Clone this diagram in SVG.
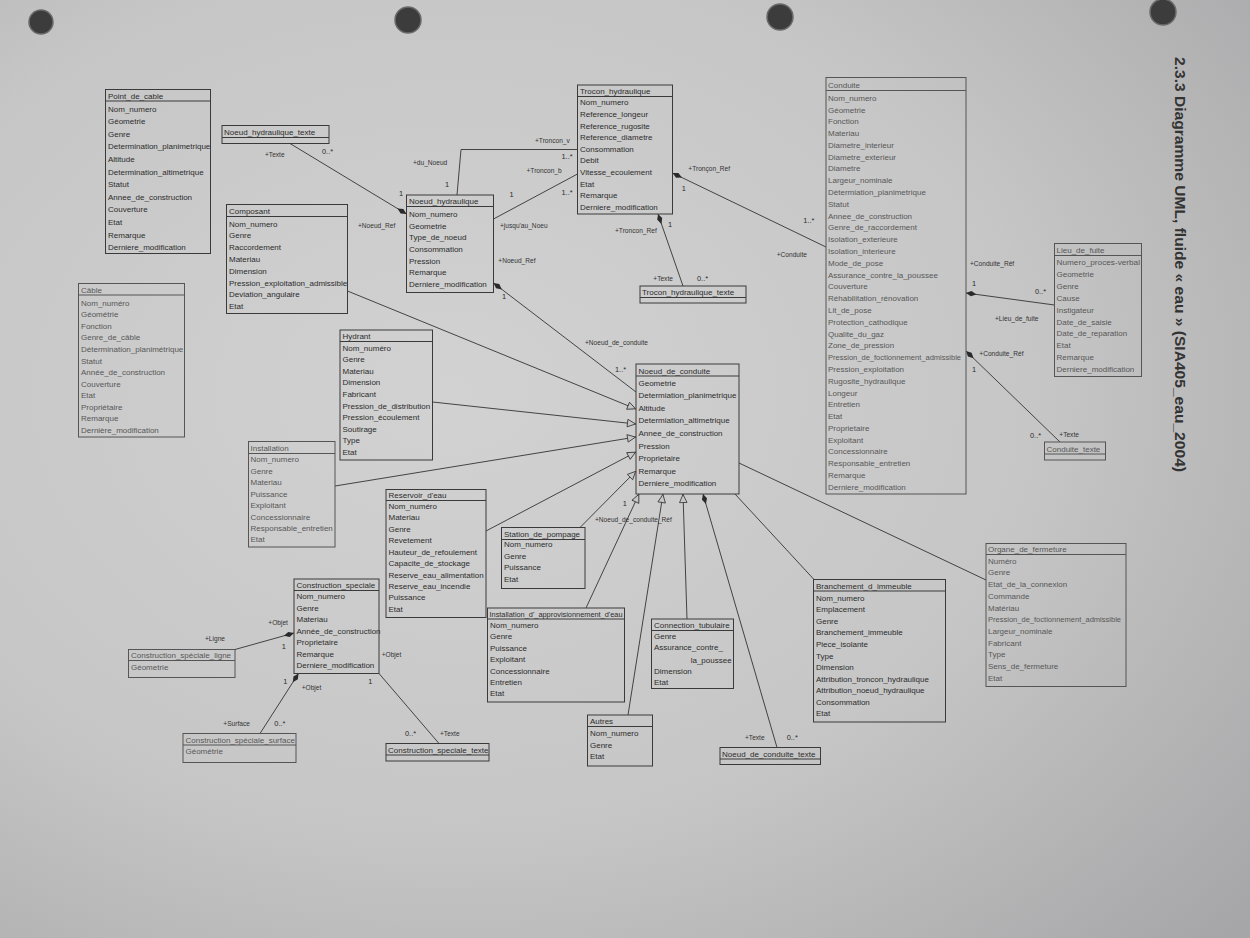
<svg xmlns="http://www.w3.org/2000/svg" width="1250" height="938" viewBox="0 0 1250 938">
  <defs>
    <radialGradient id="paper" cx="0.36" cy="0.42" r="0.85">
      <stop offset="0" stop-color="#d2d2d2"/>
      <stop offset="0.55" stop-color="#c6c6c6"/>
      <stop offset="1" stop-color="#a6a6a8"/>
    </radialGradient>
    <marker id="diamond" viewBox="0 0 14 8" refX="13" refY="4" markerWidth="13" markerHeight="7" markerUnits="userSpaceOnUse" orient="auto">
      <path d="M1,4 L7,1 L13,4 L7,7 z" fill="#2a2a2a"/>
    </marker>
    <marker id="tri" viewBox="0 0 10 10" refX="10" refY="5" markerWidth="10" markerHeight="9" markerUnits="userSpaceOnUse" orient="auto">
      <path d="M0.5,0.8 L9.5,5 L0.5,9.2 z" fill="#c6c6c6" stroke="#333" stroke-width="0.9"/>
    </marker>
    <style>
      .box { fill: none; stroke: #3a3a3a; stroke-width: 1; }
      .boxl { fill: none; stroke: #555; stroke-width: 1; }
      .sep { stroke: #3a3a3a; stroke-width: 1; }
      .sepl { stroke: #555; stroke-width: 1; }
      text { font-family: "Liberation Sans", Arial, sans-serif; }
      .t { font-size: 8px; fill: #2c2c2c; }
      .tl { font-size: 8px; fill: #575757; }
      .lbl { font-size: 6.6px; fill: #333; }
      .mul { font-size: 7.4px; fill: #2c2c2c; }
      .conn { stroke: #333; stroke-width: 0.9; fill: none; }
      .title { font-size: 14.5px; font-weight: bold; fill: #333; }
    </style>
  </defs>

  <!-- sheet of paper and punch holes -->
  <rect x="0" y="0" width="1250" height="938" fill="url(#paper)"/>
  <g id="holes" fill="#3c3c3c" stroke="#6a6a6a" stroke-width="1.5">
    <circle cx="41" cy="22" r="12"/>
    <circle cx="408" cy="20" r="13"/>
    <circle cx="780" cy="17" r="13"/>
    <circle cx="1163" cy="12" r="13"/>
  </g>

  <!-- heading, printed along the right margin -->
  <text class="title" transform="translate(1175,57) rotate(90)" textLength="415" lengthAdjust="spacingAndGlyphs">2.3.3   Diagramme UML, fluide « eau » (SIA405_eau_2004)</text>

  <!-- associations and generalisations -->
  <g id="connectors">
    <path class="conn" d="M290,143.5 L406.5,214" marker-end="url(#diamond)"/>
    <path class="conn" d="M457,195 L461,149.5 L577.5,149.5"/>
    <path class="conn" d="M493.5,219 L577.5,174"/>
    <path class="conn" d="M683,286 L658,214" marker-end="url(#diamond)"/>
    <path class="conn" d="M826,247 L672.5,173" marker-end="url(#diamond)"/>
    <path class="conn" d="M1054.5,305 L966,293" marker-end="url(#diamond)"/>
    <path class="conn" d="M1060,442 L966,351" marker-end="url(#diamond)"/>
    <path class="conn" d="M636,392 L493.5,283" marker-end="url(#diamond)"/>
    <path class="conn" d="M347.5,291 L636,409" marker-end="url(#tri)"/>
    <path class="conn" d="M432.5,402 L636,424" marker-end="url(#tri)"/>
    <path class="conn" d="M335,486 L636,437" marker-end="url(#tri)"/>
    <path class="conn" d="M486,531 L636,452" marker-end="url(#tri)"/>
    <path class="conn" d="M580,527.5 L636,471" marker-end="url(#tri)"/>
    <path class="conn" d="M586,608 L639,494" marker-end="url(#tri)"/>
    <path class="conn" d="M628,715 L663,494" marker-end="url(#tri)"/>
    <path class="conn" d="M687,619 L683,494" marker-end="url(#tri)"/>
    <path class="conn" d="M777,747.5 L703,494" marker-end="url(#diamond)"/>
    <path class="conn" d="M739,463 L986,580"/>
    <path class="conn" d="M735,494 L814,579.5"/>
    <path class="conn" d="M235,649.5 L294,633" marker-end="url(#diamond)"/>
    <path class="conn" d="M260,733.5 L298.5,673.5" marker-end="url(#diamond)"/>
    <path class="conn" d="M379,673.5 L439,743.5"/>

    <text class="lbl" x="265" y="157.3">+Texte</text>
    <text class="mul" x="322" y="154">0..*</text>
    <text class="mul" x="399" y="196">1</text>
    <text class="lbl" x="358" y="228">+Noeud_Ref</text>
    <text class="lbl" x="535" y="143">+Troncon_v</text>
    <text class="mul" x="561.5" y="158.5">1..*</text>
    <text class="lbl" x="413" y="164.6">+du_Noeud</text>
    <text class="mul" x="445" y="187">1</text>
    <text class="lbl" x="526.5" y="173">+Troncon_b</text>
    <text class="mul" x="509.5" y="196.5">1</text>
    <text class="mul" x="561.5" y="195">1..*</text>
    <text class="lbl" x="500" y="228">+jusqu'au_Noeu</text>
    <text class="lbl" x="498.3" y="263">+Noeud_Ref</text>
    <text class="mul" x="502" y="299">1</text>
    <text class="lbl" x="615" y="233">+Troncon_Ref</text>
    <text class="mul" x="668" y="226.5">1</text>
    <text class="lbl" x="653.3" y="280.6">+Texte</text>
    <text class="mul" x="697" y="280.6">0..*</text>
    <text class="lbl" x="688.3" y="171.3">+Tronçon_Ref</text>
    <text class="mul" x="681.7" y="190.6">1</text>
    <text class="mul" x="803.3" y="223">1..*</text>
    <text class="lbl" x="776.7" y="256.6">+Conduite</text>
    <text class="lbl" x="970" y="265.6">+Conduite_Réf</text>
    <text class="mul" x="972" y="286.3">1</text>
    <text class="mul" x="1035" y="294">0..*</text>
    <text class="lbl" x="995" y="320.6">+Lieu_de_fuite</text>
    <text class="lbl" x="979.3" y="355.6">+Conduite_Réf</text>
    <text class="mul" x="972" y="372.3">1</text>
    <text class="mul" x="1030" y="438.3">0..*</text>
    <text class="lbl" x="1059.3" y="437.3">+Texte</text>
    <text class="lbl" x="585" y="345">+Noeud_de_conduite</text>
    <text class="mul" x="615" y="371.6">1..*</text>
    <text class="mul" x="622.7" y="506.3">1</text>
    <text class="lbl" x="595" y="522.3">+Noeud_de_conduite_Réf</text>
    <text class="lbl" x="745" y="739.6">+Texte</text>
    <text class="mul" x="786.7" y="739.6">0..*</text>
    <text class="lbl" x="205" y="641.3">+Ligne</text>
    <text class="lbl" x="268.3" y="624.6">+Objet</text>
    <text class="mul" x="281.7" y="649">1</text>
    <text class="mul" x="283.3" y="684">1</text>
    <text class="lbl" x="301.7" y="690">+Objet</text>
    <text class="lbl" x="223.3" y="725.6">+Surface</text>
    <text class="mul" x="274.3" y="725.6">0..*</text>
    <text class="mul" x="368.3" y="684">1</text>
    <text class="lbl" x="381.7" y="656.6">+Objet</text>
    <text class="mul" x="405" y="735.6">0..*</text>
    <text class="lbl" x="440" y="735.6">+Texte</text>
  </g>

  <g id="Point_de_cable">
    <rect class="box" x="105.5" y="89.5" width="105" height="164"/>
    <line class="sep" x1="105.5" y1="101" x2="210.5" y2="101"/>
    <text class="t" x="108" y="98.5">Point_de_cable</text>
    <text class="t" x="108" y="111.5">Nom_numero</text>
    <text class="t" x="108" y="124.1">Géometrie</text>
    <text class="t" x="108" y="136.7">Genre</text>
    <text class="t" x="108" y="149.3">Determination_planimetrique</text>
    <text class="t" x="108" y="161.9">Altitude</text>
    <text class="t" x="108" y="174.5">Determination_altimetrique</text>
    <text class="t" x="108" y="187.1">Statut</text>
    <text class="t" x="108" y="199.7">Annee_de_construction</text>
    <text class="t" x="108" y="212.3">Couverture</text>
    <text class="t" x="108" y="224.9">Etat</text>
    <text class="t" x="108" y="237.5">Remarque</text>
    <text class="t" x="108" y="250.1">Derniere_modification</text>
  </g>

  <g id="Noeud_hydraulique_texte">
    <rect class="box" x="222" y="125.5" width="107" height="18"/>
    <line class="sep" x1="222" y1="137.5" x2="329" y2="137.5"/>
    <text class="t" x="224" y="135">Noeud_hydraulique_texte</text>
  </g>

  <g id="Composant">
    <rect class="box" x="226.5" y="204.5" width="121" height="109"/>
    <line class="sep" x1="226.5" y1="216.5" x2="347.5" y2="216.5"/>
    <text class="t" x="229" y="214">Composant</text>
    <text class="t" x="229" y="226.5">Nom_numero</text>
    <text class="t" x="229" y="238.3">Genre</text>
    <text class="t" x="229" y="250.1">Raccordement</text>
    <text class="t" x="229" y="261.9">Materiau</text>
    <text class="t" x="229" y="273.7">Dimension</text>
    <text class="t" x="229" y="285.5">Pression_exploitation_admissible</text>
    <text class="t" x="229" y="297.3">Deviation_angulaire</text>
    <text class="t" x="229" y="309.1">Etat</text>
  </g>

  <g id="Cable">
    <rect class="boxl" x="78.5" y="283.5" width="106" height="153.5"/>
    <line class="sepl" x1="78.5" y1="295" x2="184.5" y2="295"/>
    <text class="tl" x="81" y="292.5">Câble</text>
    <text class="tl" x="81" y="305.7">Nom_numéro</text>
    <text class="tl" x="81" y="317.3">Géométrie</text>
    <text class="tl" x="81" y="328.8">Fonction</text>
    <text class="tl" x="81" y="340.4">Genre_de_câble</text>
    <text class="tl" x="81" y="352">Détermination_planimétrique</text>
    <text class="tl" x="81" y="363.6">Statut</text>
    <text class="tl" x="81" y="375.1">Année_de_construction</text>
    <text class="tl" x="81" y="386.7">Couverture</text>
    <text class="tl" x="81" y="398.3">Etat</text>
    <text class="tl" x="81" y="409.8">Propriétaire</text>
    <text class="tl" x="81" y="421.4">Remarque</text>
    <text class="tl" x="81" y="433">Dernière_modification</text>
  </g>

  <g id="Noeud_hydraulique">
    <rect class="box" x="406.5" y="195" width="87" height="97.5"/>
    <line class="sep" x1="406.5" y1="206.5" x2="493.5" y2="206.5"/>
    <text class="t" x="409" y="204">Noeud_hydraulique</text>
    <text class="t" x="409" y="217">Nom_numero</text>
    <text class="t" x="409" y="228.7">Geometrie</text>
    <text class="t" x="409" y="240.3">Type_de_noeud</text>
    <text class="t" x="409" y="252">Consommation</text>
    <text class="t" x="409" y="263.7">Pression</text>
    <text class="t" x="409" y="275.3">Remarque</text>
    <text class="t" x="409" y="287">Derniere_modification</text>
  </g>

  <g id="Troncon_hydraulique">
    <rect class="box" x="577.5" y="85" width="95" height="129"/>
    <line class="sep" x1="577.5" y1="96.5" x2="672.5" y2="96.5"/>
    <text class="t" x="580" y="94">Trocon_hydraulique</text>
    <text class="t" x="580" y="105.3">Nom_numero</text>
    <text class="t" x="580" y="116.9">Reference_longeur</text>
    <text class="t" x="580" y="128.5">Reference_rugosite</text>
    <text class="t" x="580" y="140.1">Reference_diametre</text>
    <text class="t" x="580" y="151.7">Consommation</text>
    <text class="t" x="580" y="163.3">Debit</text>
    <text class="t" x="580" y="174.9">Vitesse_ecoulement</text>
    <text class="t" x="580" y="186.5">Etat</text>
    <text class="t" x="580" y="198.1">Remarque</text>
    <text class="t" x="580" y="209.7">Derniere_modification</text>
  </g>

  <g id="Trocon_hydraulique_texte">
    <rect class="box" x="640" y="286" width="106" height="17"/>
    <line class="sep" x1="640" y1="297.5" x2="746" y2="297.5"/>
    <text class="t" x="642" y="295">Trocon_hydraulique_texte</text>
  </g>

  <g id="Conduite">
    <rect class="boxl" x="826" y="77.5" width="140" height="416.5"/>
    <line class="sepl" x1="826" y1="90.5" x2="966" y2="90.5"/>
    <text class="tl" x="828" y="88">Conduite</text>
    <text class="tl" x="828" y="100.7">Nom_numero</text>
    <text class="tl" x="828" y="112.5">Géometrie</text>
    <text class="tl" x="828" y="124.3">Fonction</text>
    <text class="tl" x="828" y="136.1">Materiau</text>
    <text class="tl" x="828" y="147.9">Diametre_interieur</text>
    <text class="tl" x="828" y="159.7">Diametre_exterieur</text>
    <text class="tl" x="828" y="171.4">Diametre</text>
    <text class="tl" x="828" y="183.2">Largeur_nominale</text>
    <text class="tl" x="828" y="195">Détermiation_planimetrique</text>
    <text class="tl" x="828" y="206.8">Statut</text>
    <text class="tl" x="828" y="218.6">Annee_de_construction</text>
    <text class="tl" x="828" y="230.4">Genre_de_raccordement</text>
    <text class="tl" x="828" y="242.2">Isolation_exterieure</text>
    <text class="tl" x="828" y="254">Isolation_interieure</text>
    <text class="tl" x="828" y="265.8">Mode_de_pose</text>
    <text class="tl" x="828" y="277.6">Assurance_contre_la_poussee</text>
    <text class="tl" x="828" y="289.3">Couverture</text>
    <text class="tl" x="828" y="301.1">Réhabilitation_rénovation</text>
    <text class="tl" x="828" y="312.9">Lit_de_pose</text>
    <text class="tl" x="828" y="324.7">Protection_cathodique</text>
    <text class="tl" x="828" y="336.5">Qualite_du_gaz</text>
    <text class="tl" x="828" y="348.3">Zone_de_pression</text>
    <text class="tl" x="828" y="360.1" textLength="133" lengthAdjust="spacingAndGlyphs">Pression_de_foctionnement_admissible</text>
    <text class="tl" x="828" y="371.9">Pression_exploitation</text>
    <text class="tl" x="828" y="383.7">Rugosite_hydraulique</text>
    <text class="tl" x="828" y="395.5">Longeur</text>
    <text class="tl" x="828" y="407.2">Entretien</text>
    <text class="tl" x="828" y="419">Etat</text>
    <text class="tl" x="828" y="430.8">Proprietaire</text>
    <text class="tl" x="828" y="442.6">Exploitant</text>
    <text class="tl" x="828" y="454.4">Concessionnaire</text>
    <text class="tl" x="828" y="466.2">Responsable_entretien</text>
    <text class="tl" x="828" y="478">Remarque</text>
    <text class="tl" x="828" y="489.8">Derniere_modification</text>
  </g>

  <g id="Lieu_de_fuite">
    <rect class="boxl" x="1054.5" y="243.5" width="87" height="133"/>
    <line class="sepl" x1="1054.5" y1="255.5" x2="1141.5" y2="255.5"/>
    <text class="tl" x="1056.5" y="253">Lieu_de_fuite</text>
    <text class="tl" x="1056.5" y="265.3" textLength="83.5" lengthAdjust="spacingAndGlyphs">Numero_proces-verbal</text>
    <text class="tl" x="1056.5" y="277.2">Geometrie</text>
    <text class="tl" x="1056.5" y="289">Genre</text>
    <text class="tl" x="1056.5" y="300.9">Cause</text>
    <text class="tl" x="1056.5" y="312.7">Instigateur</text>
    <text class="tl" x="1056.5" y="324.6">Date_de_saisie</text>
    <text class="tl" x="1056.5" y="336.4">Date_de_reparation</text>
    <text class="tl" x="1056.5" y="348.3">Etat</text>
    <text class="tl" x="1056.5" y="360.1">Remarque</text>
    <text class="tl" x="1056.5" y="372">Derniere_modification</text>
  </g>

  <g id="Conduite_texte">
    <rect class="boxl" x="1044.5" y="442" width="61" height="18"/>
    <line class="sepl" x1="1044.5" y1="454" x2="1105.5" y2="454"/>
    <text class="tl" x="1046.5" y="451.5">Conduite_texte</text>
  </g>

  <g id="Hydrant">
    <rect class="box" x="340" y="330" width="92.5" height="130"/>
    <line class="sep" x1="340" y1="341.5" x2="432.5" y2="341.5"/>
    <text class="t" x="342.5" y="339">Hydrant</text>
    <text class="t" x="342.5" y="350.7">Nom_numéro</text>
    <text class="t" x="342.5" y="362.3">Genre</text>
    <text class="t" x="342.5" y="373.8">Materiau</text>
    <text class="t" x="342.5" y="385.4">Dimension</text>
    <text class="t" x="342.5" y="396.9">Fabricant</text>
    <text class="t" x="342.5" y="408.5">Pression_de_distribution</text>
    <text class="t" x="342.5" y="420.1">Pression_écoulement</text>
    <text class="t" x="342.5" y="431.6">Soutirage</text>
    <text class="t" x="342.5" y="443.2">Type</text>
    <text class="t" x="342.5" y="454.7">Etat</text>
  </g>

  <g id="Installation">
    <rect class="boxl" x="248.5" y="441.5" width="86.5" height="105.5"/>
    <line class="sepl" x1="248.5" y1="453.5" x2="335" y2="453.5"/>
    <text class="tl" x="250.5" y="451">Installation</text>
    <text class="tl" x="250.5" y="462.3">Nom_numero</text>
    <text class="tl" x="250.5" y="473.7">Genre</text>
    <text class="tl" x="250.5" y="485.2">Materiau</text>
    <text class="tl" x="250.5" y="496.6">Puissance</text>
    <text class="tl" x="250.5" y="508">Exploitant</text>
    <text class="tl" x="250.5" y="519.5">Concessionnaire</text>
    <text class="tl" x="250.5" y="530.9">Responsable_entretien</text>
    <text class="tl" x="250.5" y="542.3">Etat</text>
  </g>

  <g id="Noeud_de_conduite">
    <rect class="box" x="636" y="364" width="103" height="130"/>
    <line class="sep" x1="636" y1="376" x2="739" y2="376"/>
    <text class="t" x="638.5" y="373.5">Noeud_de_conduite</text>
    <text class="t" x="638.5" y="385.7">Geometrie</text>
    <text class="t" x="638.5" y="398.3">Determiation_planimetrique</text>
    <text class="t" x="638.5" y="410.9">Altitude</text>
    <text class="t" x="638.5" y="423.4">Determiation_altimetrique</text>
    <text class="t" x="638.5" y="436">Annee_de_construction</text>
    <text class="t" x="638.5" y="448.6">Pression</text>
    <text class="t" x="638.5" y="461.2">Proprietaire</text>
    <text class="t" x="638.5" y="473.8">Remarque</text>
    <text class="t" x="638.5" y="486.3">Derniere_modification</text>
  </g>

  <g id="Reservoir_d_eau">
    <rect class="box" x="386" y="489.5" width="100" height="128"/>
    <line class="sep" x1="386" y1="500.5" x2="486" y2="500.5"/>
    <text class="t" x="388.5" y="498">Reservoir_d'eau</text>
    <text class="t" x="388.5" y="509">Nom_numéro</text>
    <text class="t" x="388.5" y="520.4">Materiau</text>
    <text class="t" x="388.5" y="531.8">Genre</text>
    <text class="t" x="388.5" y="543.2">Revetement</text>
    <text class="t" x="388.5" y="554.6">Hauteur_de_refoulement</text>
    <text class="t" x="388.5" y="566.1">Capacite_de_stockage</text>
    <text class="t" x="388.5" y="577.5">Reserve_eau_alimentation</text>
    <text class="t" x="388.5" y="588.9">Reserve_eau_incendie</text>
    <text class="t" x="388.5" y="600.3">Puissance</text>
    <text class="t" x="388.5" y="611.7">Etat</text>
  </g>

  <g id="Station_de_pompage">
    <rect class="box" x="501.5" y="527.5" width="83.5" height="61"/>
    <line class="sep" x1="501.5" y1="539.5" x2="585" y2="539.5"/>
    <text class="t" x="504" y="537">Station_de_pompage</text>
    <text class="t" x="504" y="547.3">Nom_numero</text>
    <text class="t" x="504" y="558.9">Genre</text>
    <text class="t" x="504" y="570.4">Puissance</text>
    <text class="t" x="504" y="582">Etat</text>
  </g>

  <g id="Installation_d_approvisionnement_d_eau">
    <rect class="box" x="487.5" y="608" width="137" height="94"/>
    <line class="sep" x1="487.5" y1="619" x2="624.5" y2="619"/>
    <text class="t" x="489.5" y="616.5" textLength="133" lengthAdjust="spacingAndGlyphs">Installation_d'_approvisionnement_d'eau</text>
    <text class="t" x="490" y="628">Nom_numero</text>
    <text class="t" x="490" y="639.4">Genre</text>
    <text class="t" x="490" y="650.8">Puissance</text>
    <text class="t" x="490" y="662.2">Exploitant</text>
    <text class="t" x="490" y="673.6">Concessionnaire</text>
    <text class="t" x="490" y="684.9">Entretien</text>
    <text class="t" x="490" y="696.3">Etat</text>
  </g>

  <g id="Connection_tubulaire">
    <rect class="box" x="651.5" y="619" width="82" height="69.5"/>
    <line class="sep" x1="651.5" y1="630.5" x2="733.5" y2="630.5"/>
    <text class="t" x="654" y="628">Connection_tubulaire</text>
    <text class="t" x="654" y="638.7">Genre</text>
    <text class="t" x="654" y="650.3">Assurance_contre_</text>
    <text class="t" x="690.7" y="663">la_poussee</text>
    <text class="t" x="654" y="673.7">Dimension</text>
    <text class="t" x="654" y="684.7">Etat</text>
  </g>

  <g id="Autres">
    <rect class="box" x="587.5" y="715" width="65" height="51"/>
    <line class="sep" x1="587.5" y1="726.5" x2="652.5" y2="726.5"/>
    <text class="t" x="590" y="724">Autres</text>
    <text class="t" x="590" y="736.3">Nom_numero</text>
    <text class="t" x="590" y="748">Genre</text>
    <text class="t" x="590" y="759">Etat</text>
  </g>

  <g id="Construction_speciale">
    <rect class="box" x="294" y="579" width="85" height="94.5"/>
    <line class="sep" x1="294" y1="590.5" x2="379" y2="590.5"/>
    <text class="t" x="296.5" y="588">Construction_speciale</text>
    <text class="t" x="296.5" y="599">Nom_numero</text>
    <text class="t" x="296.5" y="610.5">Genre</text>
    <text class="t" x="296.5" y="622">Materiau</text>
    <text class="t" x="296.5" y="633.5">Année_de_construction</text>
    <text class="t" x="296.5" y="645">Proprietaire</text>
    <text class="t" x="296.5" y="656.5">Remarque</text>
    <text class="t" x="296.5" y="668">Derniere_modification</text>
  </g>

  <g id="Construction_speciale_ligne">
    <rect class="boxl" x="128.5" y="649.5" width="106.5" height="28"/>
    <line class="sepl" x1="128.5" y1="660.5" x2="235" y2="660.5"/>
    <text class="tl" x="131" y="658">Construction_spéciale_ligne</text>
    <text class="tl" x="131" y="669.5">Géometrie</text>
  </g>

  <g id="Construction_speciale_surface">
    <rect class="boxl" x="183" y="733.5" width="113" height="29"/>
    <line class="sepl" x1="183" y1="745" x2="296" y2="745"/>
    <text class="tl" x="185.5" y="742.5">Construction_spéciale_surface</text>
    <text class="tl" x="185.5" y="754">Géométrie</text>
  </g>

  <g id="Construction_speciale_texte">
    <rect class="box" x="386" y="743.5" width="103" height="17.5"/>
    <line class="sep" x1="386" y1="755" x2="489" y2="755"/>
    <text class="t" x="388" y="752.5">Construction_speciale_texte</text>
  </g>

  <g id="Branchement_d_immeuble">
    <rect class="box" x="813.5" y="579.5" width="132" height="142.5"/>
    <line class="sep" x1="813.5" y1="591" x2="945.5" y2="591"/>
    <text class="t" x="816" y="588.5">Branchement_d_immeuble</text>
    <text class="t" x="816" y="600.7">Nom_numero</text>
    <text class="t" x="816" y="612.3">Emplacement</text>
    <text class="t" x="816" y="623.8">Genre</text>
    <text class="t" x="816" y="635.4">Branchement_immeuble</text>
    <text class="t" x="816" y="646.9">Piece_isolante</text>
    <text class="t" x="816" y="658.5">Type</text>
    <text class="t" x="816" y="670.1">Dimension</text>
    <text class="t" x="816" y="681.6">Attribution_troncon_hydraulique</text>
    <text class="t" x="816" y="693.2">Attribution_noeud_hydraulique</text>
    <text class="t" x="816" y="704.7">Consommation</text>
    <text class="t" x="816" y="716.3">Etat</text>
  </g>

  <g id="Organe_de_fermeture">
    <rect class="boxl" x="986" y="543.5" width="140" height="143"/>
    <line class="sepl" x1="986" y1="554.5" x2="1126" y2="554.5"/>
    <text class="tl" x="988" y="552">Organe_de_fermeture</text>
    <text class="tl" x="988" y="563.7">Numéro</text>
    <text class="tl" x="988" y="575.4">Genre</text>
    <text class="tl" x="988" y="587.1">Etat_de_la_connexion</text>
    <text class="tl" x="988" y="598.8">Commande</text>
    <text class="tl" x="988" y="610.5">Matériau</text>
    <text class="tl" x="988" y="622.2" textLength="133" lengthAdjust="spacingAndGlyphs">Pression_de_foctionnement_admissible</text>
    <text class="tl" x="988" y="633.9">Largeur_nominale</text>
    <text class="tl" x="988" y="645.6">Fabricant</text>
    <text class="tl" x="988" y="657.3">Type</text>
    <text class="tl" x="988" y="669">Sens_de_fermeture</text>
    <text class="tl" x="988" y="680.7">Etat</text>
  </g>

  <g id="Noeud_de_conduite_texte">
    <rect class="box" x="720" y="747.5" width="100.5" height="17"/>
    <line class="sep" x1="720" y1="759" x2="820.5" y2="759"/>
    <text class="t" x="722" y="756.5">Noeud_de_conduite_texte</text>
  </g>
</svg>
